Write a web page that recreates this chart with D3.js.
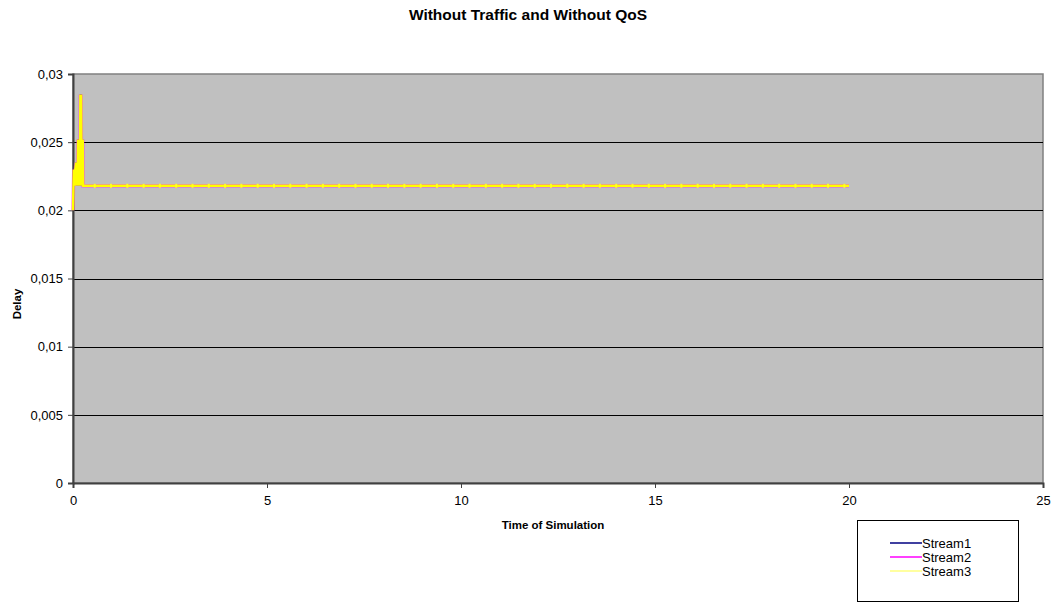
<!DOCTYPE html>
<html><head><meta charset="utf-8">
<script src="https://cdn.jsdelivr.net/npm/d3@7"></script>
<style>body{margin:0;background:#fff}svg{display:block;font-family:"Liberation Sans",Arial,sans-serif}</style>
</head><body><svg id="c" width="1056" height="604"></svg>
<script>
const title = "Without Traffic and Without QoS";
const xTicks = [0, 5, 10, 15, 20, 25];
const yTicks = [0, 0.005, 0.01, 0.015, 0.02, 0.025, 0.03];
const yTickLabels = ["0", "0,005", "0,01", "0,015", "0,02", "0,025", "0,03"];
const seriesNames = ["Stream1", "Stream2", "Stream3"];
const seriesColors = ["#000080", "#ff00ff", "#ffff00"];
const legendColors = ["#000080", "#ff00ff", "#ffff80"];
// time of simulation (s)
const time = [0, 0.02, 0.04, 0.06, 0.08, 0.10, 0.11, 0.12, 0.13, 0.14, 0.15, 0.16, 0.17, 0.18, 0.19, 0.20, 0.21, 0.22, 0.23, 0.24, 0.25, 0.26, 0.27,
  0.56, 0.98, 1.40, 1.82, 2.24, 2.66, 3.08, 3.50, 3.92, 4.34, 4.76, 5.18, 5.60, 6.02, 6.44, 6.86, 7.28, 7.70, 8.12, 8.54, 8.96, 9.38, 9.80,
  10.22, 10.64, 11.06, 11.48, 11.90, 12.32, 12.74, 13.16, 13.58, 14.00, 14.42, 14.84, 15.26, 15.68, 16.10, 16.52, 16.94, 17.36, 17.78,
  18.20, 18.62, 19.04, 19.46, 19.88, 20.00];
const stream1 = [0.0200, 0.0230, 0.0218, 0.0230, 0.0235, 0.0218, 0.0235, 0.0218, 0.0252, 0.0218, 0.0252, 0.0218, 0.0252, 0.0218, 0.0285, 0.0218, 0.0285, 0.0218, 0.0252, 0.0218, 0.0252, 0.0218, 0.0218,
  0.0218, 0.0218, 0.0218, 0.0218, 0.0218, 0.0218, 0.0218, 0.0218, 0.0218, 0.0218, 0.0218, 0.0218, 0.0218, 0.0218, 0.0218, 0.0218, 0.0218, 0.0218, 0.0218, 0.0218, 0.0218, 0.0218, 0.0218,
  0.0218, 0.0218, 0.0218, 0.0218, 0.0218, 0.0218, 0.0218, 0.0218, 0.0218, 0.0218, 0.0218, 0.0218, 0.0218, 0.0218, 0.0218, 0.0218, 0.0218, 0.0218, 0.0218,
  0.0218, 0.0218, 0.0218, 0.0218, 0.0218, 0.0218];
const stream2 = [0.0200, 0.0230, 0.0218, 0.0230, 0.0235, 0.0218, 0.0235, 0.0218, 0.0252, 0.0218, 0.0252, 0.0218, 0.0252, 0.0218, 0.0285, 0.0218, 0.0285, 0.0218, 0.0252, 0.0218, 0.0252, 0.0218, 0.0218,
  0.0218, 0.0218, 0.0218, 0.0218, 0.0218, 0.0218, 0.0218, 0.0218, 0.0218, 0.0218, 0.0218, 0.0218, 0.0218, 0.0218, 0.0218, 0.0218, 0.0218, 0.0218, 0.0218, 0.0218, 0.0218, 0.0218, 0.0218,
  0.0218, 0.0218, 0.0218, 0.0218, 0.0218, 0.0218, 0.0218, 0.0218, 0.0218, 0.0218, 0.0218, 0.0218, 0.0218, 0.0218, 0.0218, 0.0218, 0.0218, 0.0218, 0.0218,
  0.0218, 0.0218, 0.0218, 0.0218, 0.0218, 0.0218];
const stream3 = [0.0200, 0.0230, 0.0218, 0.0230, 0.0235, 0.0218, 0.0235, 0.0218, 0.0252, 0.0218, 0.0252, 0.0218, 0.0252, 0.0218, 0.0285, 0.0218, 0.0285, 0.0218, 0.0252, 0.0218, 0.0252, 0.0218, 0.0218,
  0.0218, 0.0218, 0.0218, 0.0218, 0.0218, 0.0218, 0.0218, 0.0218, 0.0218, 0.0218, 0.0218, 0.0218, 0.0218, 0.0218, 0.0218, 0.0218, 0.0218, 0.0218, 0.0218, 0.0218, 0.0218, 0.0218, 0.0218,
  0.0218, 0.0218, 0.0218, 0.0218, 0.0218, 0.0218, 0.0218, 0.0218, 0.0218, 0.0218, 0.0218, 0.0218, 0.0218, 0.0218, 0.0218, 0.0218, 0.0218, 0.0218, 0.0218,
  0.0218, 0.0218, 0.0218, 0.0218, 0.0218, 0.0218];

const svg = d3.select("#c");
const L = 73, R = 1043, T = 74, B = 483;
const x = d3.scaleLinear().domain([0, 25]).range([L, R]);
const y = d3.scaleLinear().domain([0, 0.03]).range([B, T]);

svg.append("text").attr("x", 528).attr("y", 20).attr("text-anchor", "middle")
  .attr("font-size", 15.5).attr("font-weight", "bold").text(title);

svg.append("rect").attr("x", L).attr("y", T).attr("width", R - L).attr("height", B - T)
  .attr("fill", "#c0c0c0").attr("stroke", "#808080").attr("stroke-width", 1.5);

svg.append("g").selectAll("line").data(yTicks.filter(v => v > 0 && v < 0.03)).join("line")
  .attr("x1", L).attr("x2", R).attr("y1", d => Math.round(y(d)) + 0.5).attr("y2", d => Math.round(y(d)) + 0.5)
  .attr("stroke", "#000").attr("stroke-width", 1);

const yAxis = d3.axisLeft(y).tickValues(yTicks).tickSize(5).tickPadding(5)
  .tickFormat((d, i) => yTickLabels[i]);
const gy = svg.append("g").attr("transform", `translate(${L},0)`).call(yAxis);
gy.select(".domain").attr("stroke", "#404040").attr("stroke-width", 2);
gy.selectAll(".tick line").attr("stroke", "#404040");
gy.selectAll("text").attr("font-size", 13).attr("fill", "#000").attr("font-family", "Liberation Sans, Arial, sans-serif");

const xAxis = d3.axisBottom(x).tickValues(xTicks).tickSize(5).tickPadding(8);
const gx = svg.append("g").attr("transform", `translate(0,${B})`).call(xAxis);
gx.select(".domain").attr("stroke", "#404040").attr("stroke-width", 2);
gx.selectAll(".tick line").attr("stroke", "#404040");
gx.selectAll("text").attr("font-size", 13).attr("fill", "#000").attr("font-family", "Liberation Sans, Arial, sans-serif");

svg.append("text").attr("x", 553).attr("y", 529).attr("text-anchor", "middle")
  .attr("font-size", 11.5).attr("font-weight", "bold").text("Time of Simulation");
svg.append("text").attr("transform", "translate(21,304) rotate(-90)").attr("text-anchor", "middle")
  .attr("font-size", 11.5).attr("font-weight", "bold").text("Delay");

const line = d3.line().x((d, i) => x(time[i])).y(d => y(d));
const series = [stream1, stream2, stream3];
const widths = [1.5, 3.5, 2.5];
series.forEach((s, k) => {
  svg.append("path").datum(s).attr("d", line).attr("fill", "none")
    .attr("stroke", seriesColors[k]).attr("stroke-width", widths[k]).attr("stroke-linejoin", "miter")
    .attr("opacity", k === 1 ? 0.55 : 1);
});
// point markers on Stream3
svg.append("g").selectAll("rect").data(stream3.map((v, i) => [time[i], v]).filter(d => d[0] > 0.3 && d[0] < 20))
  .join("rect").attr("x", d => x(d[0]) - 1).attr("y", d => y(d[1]) - 2).attr("width", 2).attr("height", 4)
  .attr("fill", "#ffff20");

// legend
const lg = svg.append("g");
lg.append("rect").attr("x", 857.5).attr("y", 520.5).attr("width", 161).attr("height", 81)
  .attr("fill", "#fff").attr("stroke", "#000").attr("stroke-width", 1);
seriesNames.forEach((n, i) => {
  const yy = 543 + i * 14;
  lg.append("line").attr("x1", 890).attr("x2", 922).attr("y1", yy).attr("y2", yy)
    .attr("stroke", legendColors[i]).attr("stroke-width", 1.5);
  lg.append("text").attr("x", 922).attr("y", yy + 4.5).attr("font-size", 13).text(n);
});
</script></body></html>
